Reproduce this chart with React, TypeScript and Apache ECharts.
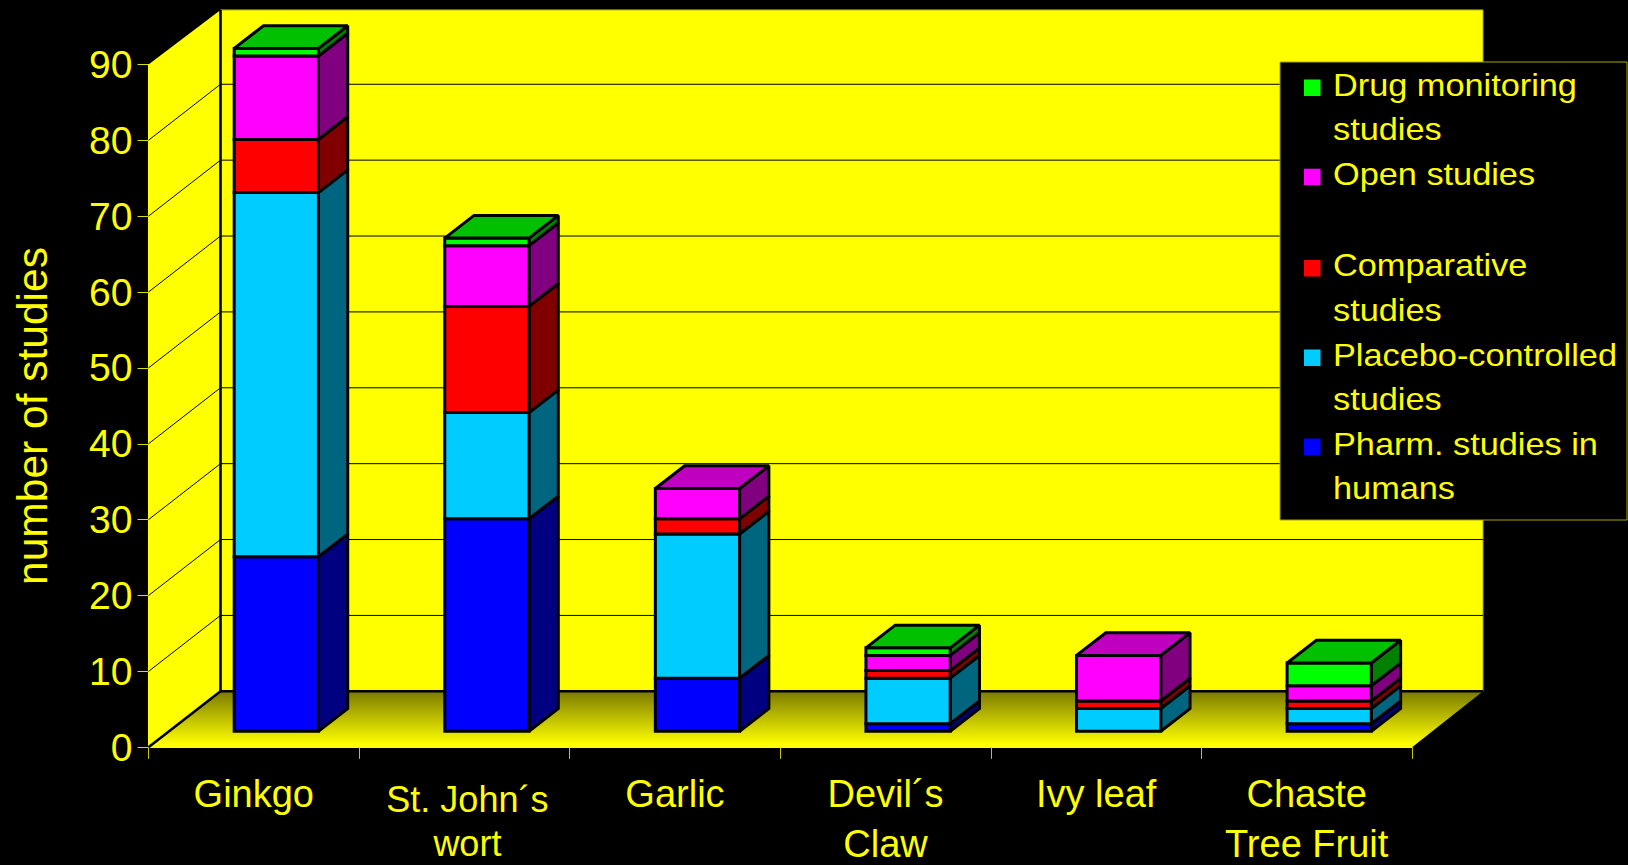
import React, { useEffect, useRef } from "react";
import * as echarts from "echarts";

const CATEGORIES = ["Ginkgo", "St. John´s\nwort", "Garlic", "Devil´s\nClaw", "Ivy leaf", "Chaste\nTree Fruit"];
const PHARM = [23, 28, 7, 1, 0, 1];
const PLACEBO = [48, 14, 19, 6, 3, 2];
const COMPARATIVE = [7, 14, 2, 1, 1, 1];
const OPEN = [11, 8, 4, 2, 6, 2];
const MONITORING = [1, 1, 0, 1, 0, 3];
const Y_TICKS = [10, 20, 30, 40, 50, 60, 70, 80];
const Y_MAX = 90;

const FONT = '"Liberation Sans", Arial, sans-serif';
const YELLOW = "#ffff00";

// Stacking order bottom to top
const LAYERS = [
  { name: "Pharm. studies in\nhumans", values: PHARM, front: "#0000ff", side: "#000080", top: "#0000c0", legendY: 438.5 },
  { name: "Placebo-controlled\nstudies", values: PLACEBO, front: "#00ccff", side: "#006680", top: "#0099c0", legendY: 349.5 },
  { name: "Comparative\nstudies", values: COMPARATIVE, front: "#ff0000", side: "#800000", top: "#c00000", legendY: 260 },
  { name: "Open studies", values: OPEN, front: "#ff00ff", side: "#800080", top: "#c000c0", legendY: 168.7 },
  { name: "Drug monitoring\nstudies", values: MONITORING, front: "#00ff00", side: "#008000", top: "#00c000", legendY: 79.5 },
];

// Geometry of the fake 3D box
const WALL_DX = 72;
const WALL_DX_RIGHT = 71;
const WALL_DY = 56;
const WALL_TOP_INSET = 1.5;
const BAR_OFF_X = 22.5;
const BAR_OFF_Y = 16;
const BAR_DX = 29.3;
const BAR_DY = 22.7;
const BAR_RATIO = 0.4;
const EDGE = 3;

function wallRender(_params: any, api: any) {
  const c0 = api.coord([0, 0]);
  const band = api.size([1, 0])[0];
  const left = c0[0] - band / 2;
  const right = left + band * CATEGORIES.length;
  const bottom = c0[1];
  const top = api.coord([0, Y_MAX])[1];
  const bl = left + WALL_DX;
  const br = right + WALL_DX_RIGHT;
  const bb = bottom - WALL_DY;
  const bt = top - WALL_DY + WALL_TOP_INSET;
  const children: any[] = [
    { type: "rect", shape: { x: bl, y: bt, width: br - bl, height: bb - bt }, style: { fill: YELLOW, stroke: "#a8a800", lineWidth: 1 } },
    { type: "polygon", shape: { points: [[left, top], [bl, bt], [bl, bb], [left, bottom]] }, style: { fill: YELLOW } },
    {
      type: "polygon",
      shape: { points: [[left, bottom], [bl, bb], [br, bb], [right, bottom]] },
      style: {
        fill: new echarts.graphic.LinearGradient(0, 0, 0, 1, [
          { offset: 0, color: "#7a7a00" },
          { offset: 0.55, color: "#c8c800" },
          { offset: 0.95, color: "#ffff00" },
          { offset: 1, color: "#ffff00" },
        ]),
      },
    },
  ];
  Y_TICKS.forEach((t) => {
    const y = api.coord([0, t])[1];
    children.push({
      type: "polyline",
      shape: { points: [[left, y], [bl, y - WALL_DY], [br, y - WALL_DY]] },
      style: { fill: "none", stroke: "#000", lineWidth: 1 },
    });
  });
  children.push({
    type: "polyline",
    shape: { points: [[bl, bt], [bl, bb], [br, bb]] },
    style: { fill: "none", stroke: "#000", lineWidth: 2.6 },
  });
  children.push({
    type: "line",
    shape: { x1: left, y1: bottom, x2: bl, y2: bb },
    style: { stroke: "#000", lineWidth: 2.6 },
  });
  return { type: "group", children };
}

function makeBarRender(layer: any) {
  return (_params: any, api: any) => {
    const from = api.value(1);
    const to = api.value(2);
    if (to <= from) return undefined;
    const isTop = api.value(3) === 1;
    const idx = api.value(0);
    const w = api.size([1, 0])[0] * BAR_RATIO;
    const p0 = api.coord([idx, from]);
    const p1 = api.coord([idx, to]);
    const xl = p0[0] + BAR_OFF_X - w / 2;
    const xr = xl + w;
    const yb = p0[1] - BAR_OFF_Y;
    const yt = p1[1] - BAR_OFF_Y;
    const line = { stroke: "#000", lineWidth: EDGE, lineJoin: "miter", miterLimit: 2 };
    const children: any[] = [
      {
        type: "polygon",
        shape: { points: [[xr, yb], [xr + BAR_DX, yb - BAR_DY], [xr + BAR_DX, yt - BAR_DY], [xr, yt]] },
        style: { fill: layer.side, ...line },
      },
      { type: "rect", shape: { x: xl, y: yt, width: w, height: yb - yt }, style: { fill: layer.front, ...line } },
    ];
    if (isTop) {
      children.push({
        type: "polygon",
        shape: { points: [[xl, yt], [xl + BAR_DX, yt - BAR_DY], [xr + BAR_DX, yt - BAR_DY], [xr, yt]] },
        style: { fill: layer.top, ...line },
      });
    }
    return { type: "group", children };
  };
}

function layerData(li: number) {
  return CATEGORIES.map((_c, i) => {
    let base = 0;
    for (let k = 0; k < li; k++) base += LAYERS[k].values[i];
    const v = LAYERS[li].values[i];
    let above = 0;
    for (let k = li + 1; k < LAYERS.length; k++) above += LAYERS[k].values[i];
    return [i, base, base + v, above === 0 ? 1 : 0];
  });
}

function legendGraphics() {
  const out: any[] = [
    { type: "rect", z: 100, shape: { x: 1280, y: 62, width: 347, height: 458 }, style: { fill: "#000", stroke: "#a8a800", lineWidth: 1 } },
  ];
  LAYERS.forEach((l) => {
    out.push({ type: "rect", z: 101, shape: { x: 1304, y: l.legendY, width: 16.5, height: 16.5 }, style: { fill: l.front } });
    out.push({
      type: "text",
      z: 101,
      x: 1333,
      y: l.legendY - 17,
      scaleX: 1.072,
      style: { text: l.name, fill: YELLOW, font: `32px ${FONT}`, lineHeight: 44.4, textAlign: "left", textVerticalAlign: "top", verticalAlign: "top" },
    });
  });
  return out;
}

export default function App() {
  const ref = useRef<HTMLDivElement>(null);
  useEffect(() => {
    document.body.style.background = "#000";
    const chart = echarts.init(ref.current!, undefined, { renderer: "svg" });
    chart.setOption({
      animation: false,
      backgroundColor: "#000",
      grid: { left: 148.5, top: 64.4, width: 1263.5, height: 682.9, containLabel: false, outerBoundsMode: "none" },
      xAxis: {
        type: "category",
        data: CATEGORIES,
        boundaryGap: true,
        axisLine: { show: true, lineStyle: { color: YELLOW, width: 1 } },
        axisTick: { show: true, length: 11.5, interval: 0, lineStyle: { color: "#c8c800", width: 1 } },
        axisLabel: {
          interval: 0,
          margin: 22,
          color: YELLOW,
          fontFamily: FONT,
          fontSize: 38,
          lineHeight: 50,
          formatter: (v: string) => (v.startsWith("St.") ? `{s|${v}}` : v),
          rich: { s: { fontFamily: FONT, fontSize: 36, lineHeight: 44, color: YELLOW, padding: [17, 0, 0, 6] } },
        },
      },
      yAxis: {
        type: "value",
        min: 0,
        max: Y_MAX,
        interval: 10,
        splitLine: { show: false },
        axisLine: { show: true, lineStyle: { color: YELLOW, width: 1 } },
        axisTick: { show: true, length: 11, lineStyle: { color: "#dcdc00", width: 1 } },
        axisLabel: { margin: 16, color: YELLOW, fontFamily: FONT, fontSize: 39 },
      },
      graphic: [
        {
          type: "text",
          z: 100,
          x: 32.5,
          y: 416,
          rotation: Math.PI / 2,
          style: { text: "number of studies", fill: YELLOW, font: `42.5px ${FONT}`, textAlign: "center", textVerticalAlign: "middle", verticalAlign: "middle" },
        },
        ...legendGraphics(),
      ],
      series: [
        { type: "custom", name: "walls", z: 1, silent: true, data: [[0]], encode: { x: 0 }, renderItem: wallRender },
        ...LAYERS.map((l, li) => ({
          type: "custom",
          name: l.name,
          z: 3,
          data: layerData(li),
          encode: { x: 0, y: [1, 2] },
          renderItem: makeBarRender(l),
        })),
      ],
    });
    return () => chart.dispose();
  }, []);
  return <div ref={ref} style={{ position: "fixed", left: 0, top: 0, width: 1628, height: 865 }} />;
}
